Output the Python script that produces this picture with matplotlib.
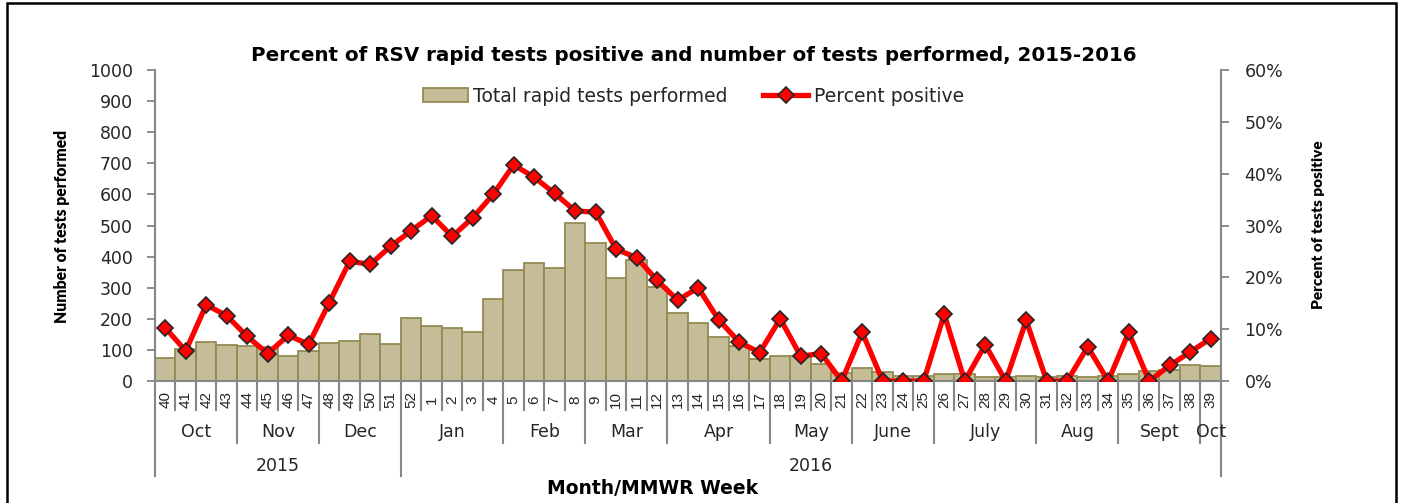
import numpy as np
import matplotlib
matplotlib.use('Agg')
import matplotlib.pyplot as plt
from matplotlib.patches import Rectangle, Patch
from matplotlib.lines import Line2D

# MMWR weeks, Oct 2015 - Oct 2016
weeks = [str(w) for w in range(40, 53)] + [str(w) for w in range(1, 40)]

tests = [74, 103, 127, 116, 114, 110, 79, 98, 123, 129, 150, 119, 203,
         177, 170, 159, 264, 358, 380, 364, 508, 443, 332, 389, 303, 219,
         187, 143, 112, 72, 82, 80, 56, 27, 43, 29, 16, 16, 23, 24, 13, 13,
         16, 13, 15, 13, 15, 21, 32, 36, 50, 48]

pct_pos = [10.3, 5.8, 14.7, 12.6, 8.6, 5.3, 8.8, 7.1, 15.1, 23.1, 22.5, 26.0, 29.0,
           31.9, 27.9, 31.5, 36.0, 41.7, 39.3, 36.2, 32.8, 32.6, 25.4, 23.8, 19.4,
           15.6, 18.0, 11.8, 7.5, 5.5, 12.0, 4.8, 5.3, 0, 9.4, 0, 0, 0, 12.9, 0,
           7.0, 0, 11.7, 0, 0, 6.6, 0, 9.4, 0, 3.0, 5.6, 8.2]

months = ['Oct', 'Nov', 'Dec', 'Jan', 'Feb', 'Mar', 'Apr', 'May', 'June',
          'July', 'Aug', 'Sept', 'Oct']
month_len = [4, 4, 4, 5, 4, 4, 5, 4, 4, 5, 4, 4, 1]
years = ['2015', '2016']
year_len = [12, 40]

gray = '#868686'
txt = '#262626'
tick_font = 'DejaVu Sans'
label_font = 'Lato'


def fit_len(t, target_px):
    # scale a text's font size so its long side spans target_px
    r = fig.canvas.get_renderer()
    bb = t.get_window_extent(renderer=r)
    t.set_fontsize(t.get_fontsize() * target_px / max(bb.width, bb.height))


fig = plt.figure(figsize=(14.01, 5.03), dpi=100)
ax = fig.add_axes([0.1106, 0.2425, 0.7609, 0.6183])
x = np.arange(len(weeks))

ax.bar(x, tests, width=1.0, color='#C4BD97', edgecolor='#948A54', linewidth=1.3, zorder=2)
ax.set_xlim(-0.5, len(weeks) - 0.5)
ax.set_ylim(0, 1000)
ax.set_yticks(range(0, 1001, 100))
ax.set_xticks([])
for s in ['top', 'right']:
    ax.spines[s].set_visible(False)
for s in ['left', 'bottom']:
    ax.spines[s].set_color(gray)
    ax.spines[s].set_linewidth(1.5)
ax.tick_params(axis='y', colors=gray, length=6, width=1.3, labelcolor=txt,
               labelsize=12.5, pad=10)
for t in ax.get_yticklabels():
    t.set_fontfamily(tick_font)

ax2 = ax.twinx()
ax2.plot(x, pct_pos, color='#FF0000', linewidth=3.8, marker='D', markersize=8.5,
         markerfacecolor='#FF0000', markeredgecolor='#262626', markeredgewidth=1.2,
         zorder=3)
ax2.set_ylim(0, 60)
ax2.set_yticks(range(0, 61, 10))
ax2.set_yticklabels([f'{v}%' for v in range(0, 61, 10)])
for s in ['top', 'left', 'bottom']:
    ax2.spines[s].set_visible(False)
ax2.spines['right'].set_color(gray)
ax2.spines['right'].set_linewidth(1.5)
ax2.tick_params(axis='y', colors=gray, length=6, width=1.3, labelcolor=txt,
                labelsize=12.5, pad=11)
for t in ax2.get_yticklabels():
    t.set_fontfamily(tick_font)

# grouped category axis: week / month / year
tr = ax.get_xaxis_transform()
week_d, month_d, year_d = -0.093, -0.199, -0.305
month_edges = np.cumsum([0] + month_len)
year_edges = np.cumsum([0] + year_len)
for b in range(len(weeks) + 1):
    depth = week_d
    if b in month_edges:
        depth = month_d
    if b in year_edges:
        depth = year_d
    ax.plot([b - 0.5, b - 0.5], [0, depth], color=gray, lw=1.5, transform=tr, clip_on=False)
for i, w in enumerate(weeks):
    ax.text(i, -0.061, w, rotation=90, ha='center', va='center', transform=tr,
            fontsize=11, color=txt, family='Liberation Sans')
for m, a, b in zip(months, month_edges[:-1], month_edges[1:]):
    ax.text((a + b - 1) / 2, -0.164, m, ha='center', va='center', transform=tr,
            fontsize=12.5, color=txt, family=tick_font)
for yr, a, b in zip(years, year_edges[:-1], year_edges[1:]):
    xc = (a + b - 1) / 2 if yr == '2015' else 31.5
    ax.text(xc, -0.273, yr, ha='center', va='center',
            transform=tr, fontsize=12.5, color=txt, family=tick_font)

title = fig.text(0.4953, 0.889, 'Percent of RSV rapid tests positive and number of tests performed, 2015-2016',
                 ha='center', va='center', fontsize=13, fontweight='bold', family='DejaVu Sans')
fit_len(title, 882)
ylab = fig.text(0.0443, 0.5507, 'Number of tests performed', rotation=90, ha='center', va='center',
                fontsize=12, fontweight='heavy', family=label_font)
fit_len(ylab, 192)
ylab2 = fig.text(0.9408, 0.5527, 'Percent of tests positive', rotation=90, ha='center', va='center',
                 fontsize=12, fontweight='heavy', family=label_font)
fit_len(ylab2, 168)
xlab = fig.text(0.466, 0.028, 'Month/MMWR Week', ha='center', va='center',
                fontsize=12, fontweight='bold', family='DejaVu Sans')
fit_len(xlab, 210)

handles = [Patch(facecolor='#C4BD97', edgecolor='#948A54', linewidth=1.3),
           Line2D([], [], color='#FF0000', linewidth=3.8, marker='D', markersize=8.5,
                  markerfacecolor='#FF0000', markeredgecolor='#262626', markeredgewidth=1.2)]
fig.legend(handles, ['Total rapid tests performed', 'Percent positive'], ncol=2,
           loc='center', bbox_to_anchor=(0.495, 0.809), frameon=False,
           prop={'family': 'DejaVu Sans', 'size': 13.5}, handlelength=2.4, columnspacing=1.9,
           handletextpad=0.3, labelcolor=txt)

fig.add_artist(Rectangle((0.005, -0.1), 0.9914, 1.094, transform=fig.transFigure,
                         fill=False, edgecolor='black', linewidth=1.8))

fig.savefig('out.png', dpi=100)
